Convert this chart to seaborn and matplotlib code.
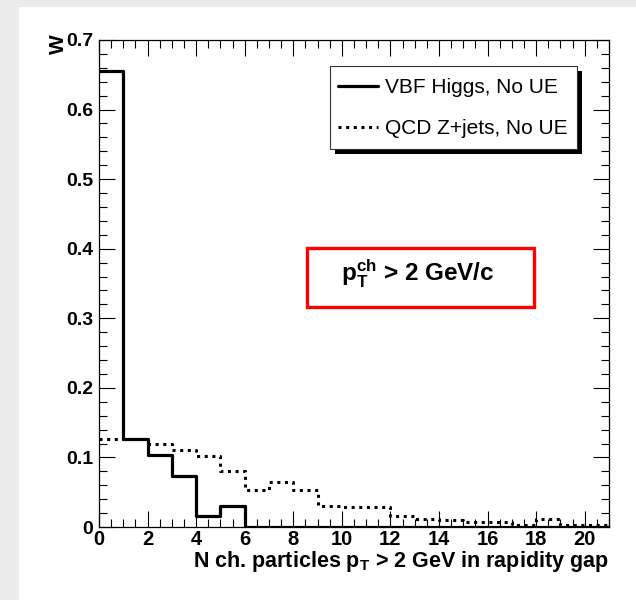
import numpy as np
import pandas as pd
import matplotlib
matplotlib.use("Agg")
import matplotlib.pyplot as plt
from matplotlib.patches import Rectangle
from matplotlib.lines import Line2D
from matplotlib.ticker import MultipleLocator
import seaborn as sns

# ---- data ----
bin_edges = list(range(0, 22))
vbf_higgs = [0.655, 0.126, 0.103, 0.0735, 0.0156, 0.030, 0, 0, 0, 0, 0,
             0, 0, 0, 0, 0, 0, 0, 0, 0, 0]
qcd_zjets = [0.127, 0.126, 0.120, 0.111, 0.102, 0.081, 0.0536, 0.0645, 0.0526,
             0.030, 0.0284, 0.0284, 0.016, 0.0115, 0.0095, 0.0075, 0.0072,
             0.0034, 0.011, 0.0034, 0.003]
series_labels = ["VBF Higgs, No UE", "QCD Z+jets, No UE"]
x_ticks = [0, 2, 4, 6, 8, 10, 12, 14, 16, 18, 20]
y_ticks = [0, 0.1, 0.2, 0.3, 0.4, 0.5, 0.6, 0.7]

sns.set_theme(style="ticks")
plt.rcParams["font.family"] = ["Liberation Sans", "DejaVu Sans"]
plt.rcParams["mathtext.fontset"] = "custom"
plt.rcParams["mathtext.rm"] = "Liberation Sans:bold"
plt.rcParams["mathtext.it"] = "Liberation Sans:bold"
plt.rcParams["mathtext.bf"] = "Liberation Sans:bold"
for k in ["text.color", "axes.labelcolor", "xtick.color", "ytick.color",
          "xtick.labelcolor", "ytick.labelcolor", "axes.edgecolor"]:
    plt.rcParams[k] = "black"

W, H = 636, 600
fig = plt.figure(figsize=(W / 100, H / 100), dpi=100, facecolor="#ebebeb")
fig.patches.append(Rectangle((19 / W, 0), (W - 19) / W, (H - 7) / H,
                             transform=fig.transFigure, facecolor="white",
                             edgecolor="none", zorder=-5))

ax_l, ax_r, ax_t, ax_b = 99, 609, 40, 527
ax = fig.add_axes([ax_l / W, 1 - ax_b / H, (ax_r - ax_l) / W, (ax_b - ax_t) / H])
ax.set_facecolor("white")

centers = [(bin_edges[i] + bin_edges[i + 1]) / 2 for i in range(len(bin_edges) - 1)]
df = pd.DataFrame({"x": centers, "vbf": vbf_higgs, "qcd": qcd_zjets})

dot_style = (0, (1.0, 1.5))
sns.histplot(data=df, x="x", weights="qcd", bins=bin_edges, element="step",
             fill=False, ax=ax, color="black", linewidth=2.2,
             linestyle=dot_style)
sns.histplot(data=df, x="x", weights="vbf", bins=bin_edges, element="step",
             fill=False, ax=ax, color="black", linewidth=2.3)
for ln in ax.lines:
    ln.set_solid_capstyle("butt")
    ln.set_dash_capstyle("butt")

ax.set_xlim(0, 21)
ax.set_ylim(0, 0.7)
ax.set_xticks(x_ticks)
ax.set_yticks(y_ticks)
ax.set_xticklabels([str(t) for t in x_ticks])
ax.set_yticklabels(["0" if t == 0 else f"{t:.1f}" for t in y_ticks])
ax.xaxis.set_minor_locator(MultipleLocator(0.5))
ax.yaxis.set_minor_locator(MultipleLocator(0.02))
ax.tick_params(which="both", direction="in", top=True, right=True,
               width=0.8, color="black")
ax.tick_params(which="major", length=11.5)
ax.tick_params(which="minor", length=5.8)
ax.tick_params(axis="y", which="major", pad=4, labelsize=14)
ax.tick_params(axis="x", which="major", pad=2.5, labelsize=14.5)
for lab in ax.get_xticklabels() + ax.get_yticklabels():
    lab.set_fontweight("bold")
for sp in ax.spines.values():
    sp.set_visible(True)
    sp.set_linewidth(0.9)
    sp.set_color("black")

ax.set_xlabel(r"N ch. particles p$_{\mathregular{T}}$ > 2 GeV in rapidity gap",
              fontsize=15.5, fontweight="bold", loc="right")
ax.xaxis.set_label_coords(1.0, -0.046)
ax.set_ylabel("W", fontsize=15, fontweight="bold", loc="top")
ax.yaxis.set_label_coords(-0.061, 1.012)

# legend box with shadow (pixel coords)
def fig_rect(x0, y0, x1, y1, **kw):
    r = Rectangle((x0 / W, 1 - y1 / H), (x1 - x0) / W, (y1 - y0) / H,
                  transform=fig.transFigure, **kw)
    fig.patches.append(r)
    return r

fig_rect(335, 71, 582, 154, facecolor="black", edgecolor="none", zorder=5)
fig_rect(330, 66, 577, 149, facecolor="white", edgecolor="#333333",
         linewidth=0.8, zorder=6)
handles = [Line2D([], [], color="black", lw=2.3),
           Line2D([], [], color="black", lw=2.2, linestyle=dot_style)]
leg = fig.legend(handles, series_labels, loc="upper left",
                 bbox_to_anchor=(338 / W, 1 - 78 / H), frameon=False,
                 borderpad=0, borderaxespad=0,
                 fontsize=15, handlelength=1.92, handletextpad=0.34,
                 labelspacing=1.05)
leg.set_zorder(7)

# red annotation box
fig_rect(307, 248, 534, 307, facecolor="white", edgecolor="#ff0000",
         linewidth=2.4, zorder=6)
fig.text(418 / W, 1 - 274 / H, r"p$_{\mathregular{T}}^{\mathregular{ch}}$ > 2 GeV/c",
         ha="center", va="center", fontsize=17.5, fontweight="bold", zorder=7)

fig.savefig("out.png", dpi=100, facecolor=fig.get_facecolor())
